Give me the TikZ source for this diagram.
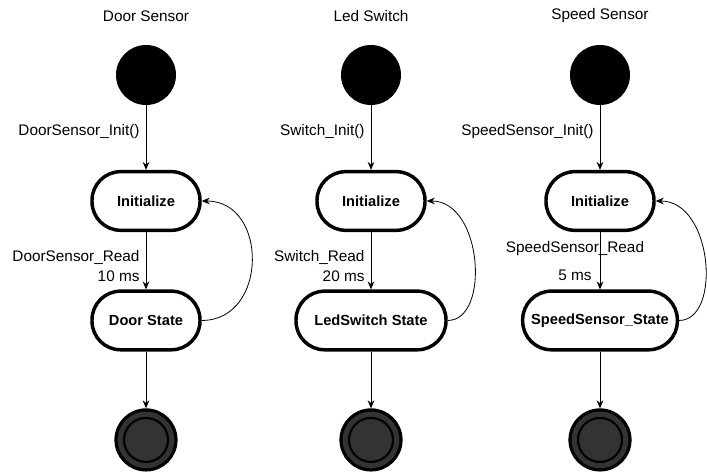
\documentclass[tikz,border=0pt]{standalone}
\usepackage{fontspec}
\setmainfont{Liberation Sans}
\usetikzlibrary{arrows.meta}

\begin{document}
\begin{tikzpicture}[x=0.75pt, y=-0.75pt, node distance=89.6pt]
            \tikzstyle{txt} = [font=\fontsize{11.5pt}{13.8pt}\selectfont, inner sep=1pt]
            \tikzstyle{start} = [circle, fill=black, minimum size=45pt, inner sep=0pt]
            \tikzstyle{stop} = [circle, draw, line width=2.4pt, fill=black!80, minimum size=45pt, inner sep=0pt,
                path picture={\draw[line width=1.6pt] (path picture bounding box.center) circle (16.5pt);}]
            \tikzstyle{state} = [rectangle, draw, line width=2.6pt, rounded corners=21.5pt, minimum width=81pt, minimum height=44pt, font=\fontsize{11pt}{13pt}\selectfont\bfseries]
            \tikzstyle{arrow} = [->, >={Stealth[length=6pt, width=5pt]}, line width=0.75pt]
            \tikzstyle{back} = [->, >={Stealth[length=6pt, width=5pt]}, line width=0.6pt]

            \useasboundingbox (0,0) rectangle (707,473);

            % door sensor
            \node (dtitle) [txt] at (146,16) {Door Sensor};
            \node (dstart) [start] at (146,75) {};
            \node (dinit) [state, below of=dstart, node distance=94.5pt] {Initialize};
            \node (dstate) [state, below of=dinit] {Door State};
            \node (dend) [stop, below of=dstate] {};

            \draw [arrow] (dstart) -- node[txt, left=3.5pt, pos=0.4] {DoorSensor\_Init()} (dinit);
            \draw [arrow] (dinit) -- node[txt, left=3.5pt, pos=0.6, align=right] {DoorSensor\_Read\\[1.2pt]10 ms} (dstate);
            \draw [arrow] (dstate) -- (dend);
            \draw [back] (dstate.east) .. controls +(50pt,0) and +(50pt,0) .. (dinit.east);

            % led switch
            \node (ltitle) [txt] at (371,16) {Led Switch};
            \node (lstart) [start] at (371,75) {};
            \node (linit) [state, below of=lstart, node distance=94.5pt] {Initialize};
            \node (lstate) [state, below of=linit, minimum width=112.5pt] {LedSwitch State};
            \node (lend) [stop, below of=lstate] {};

            \draw [arrow] (lstart) -- node[txt, left=3.5pt, pos=0.4] {Switch\_Init()} (linit);
            \draw [arrow] (linit) -- node[txt, left=3.5pt, pos=0.6, align=right] {Switch\_Read\\[1.2pt]20 ms} (lstate);
            \draw [arrow] (lstate) -- (lend);
            \draw [back] (lstate.east) .. controls +(32pt,0) and +(42pt,0) .. (linit.east);

            % speed sensor
            \node (stitle) [txt] at (600,16) {Speed Sensor};
            \node (sstart) [start] at (600,75) {};
            \node (sinit) [state, below of=sstart, node distance=94.5pt] {Initialize};
            \node (sstate) [state, below of=sinit, minimum width=116pt] {SpeedSensor\_State};
            \node (send) [stop, below of=sstate] {};

            \draw [arrow] (sstart) -- node[txt, left=3.5pt, pos=0.4] {SpeedSensor\_Init()} (sinit);
            \draw [arrow] (sinit) -- node[txt, pos=0.28, xshift=-18.75pt] {SpeedSensor\_Read}
                node[txt, left=5pt, pos=0.75] {5 ms} (sstate);
            \draw [arrow] (sstate) -- (send);
            \draw [back] (sstate.east) .. controls +(32pt,0) and +(43pt,0) .. (sinit.east);
        \end{tikzpicture}
\end{document}
